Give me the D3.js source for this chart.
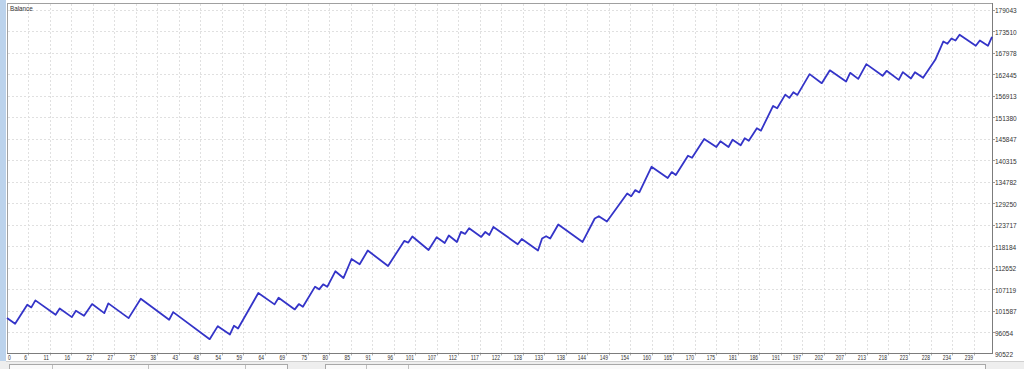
<!DOCTYPE html>
<html>
<head>
<meta charset="utf-8">
<script src="https://cdn.jsdelivr.net/npm/d3@7"></script>
<style>
  html, body { margin: 0; padding: 0; background: #fff; }
  .app { width: 1024px; height: 369px; overflow: hidden; }
  text { font-family: "Liberation Sans", Arial, sans-serif; fill: #333; }
</style>
</head>
<body>
<div class="app"></div>
<script>
// Data (trade number, balance) at each turning point
const trades = [0, 2, 5, 6, 7, 12, 13, 16, 17, 19, 21, 24, 25, 30, 33, 40, 41, 50, 52, 55,
  56, 57, 62, 66, 67, 71, 72, 73, 76, 77, 78, 79, 81, 83, 85, 87, 89, 94, 98, 99,
  100, 104, 106, 108, 109, 111, 112, 113, 114, 117, 118, 119, 120, 126, 127, 131, 132, 133, 134, 136,
  142, 145, 146, 148, 153, 154, 155, 156, 159, 163, 164, 165, 168, 169, 172, 175, 176, 178, 179, 181,
  182, 183, 185, 186, 189, 190, 192, 193, 194, 195, 198, 201, 203, 207, 208, 210, 212, 216, 217, 220,
  221, 223, 224, 226, 229, 231, 232, 233, 234, 235, 239, 240, 242, 243];
const balance = [99750, 98264, 103168, 102471, 104278, 100587, 102213, 99968, 101619, 100329,
  103323, 101000, 103503, 99710, 104716, 99297, 101258, 94290, 97645, 95503,
  97748, 97051, 106162, 103245, 104974, 101955, 103323, 102652, 107813, 107117,
  108407, 107762, 111762, 110033, 114936, 113569, 117104, 113130, 119582, 119169,
  120717, 117259, 120537, 119066, 120975, 119324, 121904, 121388, 122859, 120614,
  121904, 121130, 123195, 118730, 120098, 117104, 120201, 120795, 120201, 123814,
  119324, 125363, 125956, 124589, 131815, 131118, 132666, 132073, 138680, 135763,
  137312, 136538, 141519, 141002, 145829, 143764, 145235, 143764, 145648, 144203,
  146009, 145390, 148590, 147971, 154345, 153752, 157262, 156410, 157881, 157184,
  162526, 160204, 163507, 160617, 162862, 161313, 165107, 162088, 163378, 161055,
  163042, 161391, 163042, 161571, 166217, 170940, 170346, 171714, 171198, 172669,
  169830, 171198, 169830, 172153];

const xTickLabels = ['0', '6', '11', '16', '22', '27', '32', '38', '43', '48', '54', '59', '64', '69',
  '75', '80', '85', '91', '96', '101', '107', '112', '117', '122', '128', '133', '138', '144', '149',
  '154', '160', '165', '170', '175', '181', '186', '191', '197', '202', '207', '213', '218', '223',
  '228', '234', '239'];
const yTickLabels = ['90522', '96054', '101587', '107119', '112652', '118184', '123717', '129250',
  '134782', '140315', '145847', '151380', '156913', '162445', '167978', '173510', '179043'];

const X_STEP = 5.301; // trades between vertical grid lines

// Setup
const width = 1024;
const height = 369;
const plot = { left: 7, top: 3, right: 992, bottom: 353 };

const svg = d3.select('.app')
  .append('svg')
  .attr('width', width)
  .attr('height', height)
  .attr('viewBox', [0, 0, width, height]);

const x = d3.scaleLinear()
  .domain([0, 243])
  .range([plot.left, plot.right]);

const y = d3.scaleLinear()
  .domain([+yTickLabels[0], +yTickLabels[yTickLabels.length - 1]])
  .range([353.8, 10]);

const gridX = i => Math.round(x(i * X_STEP)) + 0.5;

// Window chrome
svg.append('rect')
  .attr('x', 0).attr('y', 0)
  .attr('width', 6).attr('height', height)
  .attr('fill', '#bcd3ec');

svg.append('rect')
  .attr('x', 0).attr('y', 361)
  .attr('width', width).attr('height', 8)
  .attr('fill', '#eeeeee');
svg.append('line')
  .attr('x1', 6).attr('x2', width)
  .attr('y1', 361.5).attr('y2', 361.5)
  .attr('stroke', '#d0d0d0');

const tabs = [[9, 287], [325, 985]];
svg.append('g')
  .selectAll('rect')
  .data(tabs)
  .join('rect')
  .attr('x', d => d[0] + 0.5)
  .attr('y', 364.5)
  .attr('width', d => d[1] - d[0])
  .attr('height', 10)
  .attr('fill', '#fafafa')
  .attr('stroke', '#a8a8a8');

svg.append('g')
  .attr('stroke', '#c0c0c0')
  .selectAll('line')
  .data([52, 148, 245, 366, 408])
  .join('line')
  .attr('x1', d => d + 0.5).attr('x2', d => d + 0.5)
  .attr('y1', 365).attr('y2', 369);

// Plot area
svg.append('rect')
  .attr('x', plot.left + 0.5)
  .attr('y', plot.top + 0.5)
  .attr('width', plot.right - plot.left)
  .attr('height', plot.bottom - plot.top)
  .attr('fill', '#fff')
  .attr('stroke', '#a0a0a0');

// Grid
const gGrid = svg.append('g')
  .attr('stroke', '#e0e0e0')
  .attr('stroke-dasharray', '2,2');

gGrid.selectAll('.vgrid')
  .data(xTickLabels.slice(1))
  .join('line')
  .attr('class', 'vgrid')
  .attr('x1', (d, i) => gridX(i + 1))
  .attr('x2', (d, i) => gridX(i + 1))
  .attr('y1', plot.top + 1)
  .attr('y2', plot.bottom);

gGrid.selectAll('.hgrid')
  .data(yTickLabels.slice(1))
  .join('line')
  .attr('class', 'hgrid')
  .attr('x1', plot.left + 1)
  .attr('x2', plot.right)
  .attr('y1', d => Math.round(y(+d)) + 0.5)
  .attr('y2', d => Math.round(y(+d)) + 0.5);

// Axes lines
svg.append('line')
  .attr('x1', plot.left).attr('x2', plot.right + 1)
  .attr('y1', plot.bottom + 0.5).attr('y2', plot.bottom + 0.5)
  .attr('stroke', '#7c7c7c');
svg.append('line')
  .attr('x1', plot.right + 0.5).attr('x2', plot.right + 0.5)
  .attr('y1', plot.top).attr('y2', plot.bottom + 1)
  .attr('stroke', '#7c7c7c');

// Tick marks
svg.append('g')
  .attr('stroke', '#b0b0b0')
  .selectAll('line')
  .data(xTickLabels.slice(1))
  .join('line')
  .attr('x1', (d, i) => gridX(i + 1))
  .attr('x2', (d, i) => gridX(i + 1))
  .attr('y1', plot.bottom + 1)
  .attr('y2', plot.bottom + 2.5);

svg.append('g')
  .attr('stroke', '#9a9a9a')
  .selectAll('line')
  .data(yTickLabels.slice(1))
  .join('line')
  .attr('x1', plot.right + 1)
  .attr('x2', plot.right + 3)
  .attr('y1', d => Math.round(y(+d)) + 0.5)
  .attr('y2', d => Math.round(y(+d)) + 0.5);

// Labels
svg.append('g')
  .attr('font-size', 6.5)
  .selectAll('text')
  .data(xTickLabels)
  .join('text')
  .attr('x', (d, i) => i === 0 ? 8 : gridX(i) - 1.5)
  .attr('y', 360)
  .attr('text-anchor', (d, i) => i === 0 ? 'start' : 'end')
  .attr('textLength', d => d.length * 2.75)
  .attr('lengthAdjust', 'spacingAndGlyphs')
  .text(d => d);

svg.append('g')
  .attr('font-size', 6.5)
  .selectAll('text')
  .data(yTickLabels)
  .join('text')
  .attr('x', 995)
  .attr('y', d => Math.min(y(+d) + 1, 356.5))
  .attr('dy', '0.35em')
  .text(d => d);

svg.append('text')
  .attr('x', 10)
  .attr('y', 11)
  .attr('font-size', 6.3)
  .text('Balance');

// Balance line
const points = trades.map((t, i) => [t, balance[i]]);

svg.append('path')
  .datum(points)
  .attr('fill', 'none')
  .attr('stroke', '#3434c8')
  .attr('stroke-width', 1.8)
  .attr('stroke-linejoin', 'round')
  .attr('d', d3.line()
    .x(d => x(d[0]))
    .y(d => y(d[1]))
  );
</script>
</body>
</html>
